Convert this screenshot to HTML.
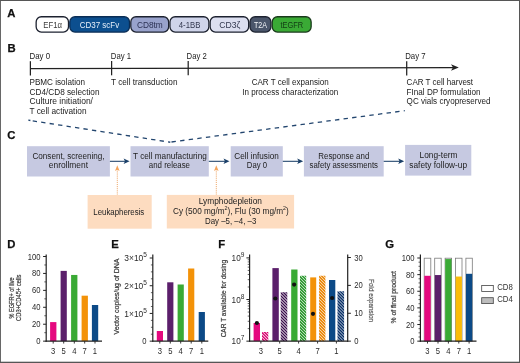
<!DOCTYPE html>
<html><head><meta charset="utf-8"><title>Figure</title>
<style>
html,body{margin:0;padding:0;background:#fff;}
body{width:520px;height:363px;overflow:hidden;font-family:"Liberation Sans",sans-serif;}
svg{display:block;position:absolute;left:0;top:0;will-change:transform;}
svg text{font-family:"Liberation Sans",sans-serif;}
</style></head>
<body>
<svg width="520" height="363" viewBox="0 0 520 363">
<defs>
<clipPath id="c0"><rect x="262" y="332" width="6.3" height="9.15"/></clipPath>
<clipPath id="c1"><rect x="280.7" y="292.3" width="6.6" height="48.85"/></clipPath>
<clipPath id="c2"><rect x="300" y="275.8" width="6.2" height="65.35"/></clipPath>
<clipPath id="c3"><rect x="319.1" y="275.8" width="6.3" height="65.35"/></clipPath>
<clipPath id="c4"><rect x="337.5" y="291.2" width="6.6" height="49.95"/></clipPath>
</defs>
<rect x="0" y="0" width="520" height="363" fill="#fff"/>
<text x="7.3" y="16.6" font-size="11.3" text-anchor="start" fill="#111" font-weight="bold" stroke="#111" stroke-width="0.25">A</text>
<text x="7.4" y="51.6" font-size="11.3" text-anchor="start" fill="#111" font-weight="bold" stroke="#111" stroke-width="0.25">B</text>
<text x="7.2" y="139.4" font-size="11.3" text-anchor="start" fill="#111" font-weight="bold" stroke="#111" stroke-width="0.25">C</text>
<text x="7.3" y="247.8" font-size="11.3" text-anchor="start" fill="#111" font-weight="bold" stroke="#111" stroke-width="0.25">D</text>
<text x="111.3" y="247.8" font-size="11.3" text-anchor="start" fill="#111" font-weight="bold" stroke="#111" stroke-width="0.25">E</text>
<text x="218.3" y="247.8" font-size="11.3" text-anchor="start" fill="#111" font-weight="bold" stroke="#111" stroke-width="0.25">F</text>
<text x="385.2" y="247.8" font-size="11.3" text-anchor="start" fill="#111" font-weight="bold" stroke="#111" stroke-width="0.25">G</text>
<rect x="36.15" y="16.75" width="32.35" height="15.3" rx="5.2" ry="5.2" fill="#ffffff" stroke="#1d2230" stroke-width="1.3"/>
<text x="43.2" y="27.5" font-size="8.6" text-anchor="start" fill="#3a3a3a" textLength="18.8" lengthAdjust="spacingAndGlyphs">EF1α</text>
<rect x="69.8" y="16.75" width="59.7" height="15.3" rx="5.2" ry="5.2" fill="#0c4f8f" stroke="#0a2d55" stroke-width="1.3"/>
<text x="79.7" y="27.5" font-size="8.6" text-anchor="start" fill="#e8f0fa" textLength="39.5" lengthAdjust="spacingAndGlyphs">CD37 scFv</text>
<rect x="130.8" y="16.75" width="37.85" height="15.3" rx="5.2" ry="5.2" fill="#98a2cc" stroke="#1d2230" stroke-width="1.3"/>
<text x="136.9" y="27.5" font-size="8.6" text-anchor="start" fill="#2b3154" textLength="25.9" lengthAdjust="spacingAndGlyphs">CD8tm</text>
<rect x="169.95" y="16.75" width="38.9" height="15.3" rx="5.2" ry="5.2" fill="#cfd4ea" stroke="#1d2230" stroke-width="1.3"/>
<text x="178.8" y="27.5" font-size="8.6" text-anchor="start" fill="#33384f" textLength="21.6" lengthAdjust="spacingAndGlyphs">4-1BB</text>
<rect x="210.15" y="16.75" width="38.5" height="15.3" rx="5.2" ry="5.2" fill="#dcdff0" stroke="#1d2230" stroke-width="1.3"/>
<text x="219.3" y="27.5" font-size="8.6" text-anchor="start" fill="#33384f" textLength="21.1" lengthAdjust="spacingAndGlyphs">CD3ζ</text>
<rect x="249.95" y="16.75" width="21.0" height="15.3" rx="5.2" ry="5.2" fill="#4b566b" stroke="#1d2230" stroke-width="1.3"/>
<text x="254" y="27.5" font-size="8.6" text-anchor="start" fill="#f2f4f8" textLength="13" lengthAdjust="spacingAndGlyphs">T2A</text>
<rect x="272.25" y="16.75" width="38.9" height="15.3" rx="5.2" ry="5.2" fill="#3aaa35" stroke="#1a3a1c" stroke-width="1.3"/>
<text x="280.4" y="27.5" font-size="8.6" text-anchor="start" fill="#123a14" textLength="22.8" lengthAdjust="spacingAndGlyphs">tEGFR</text>
<path d="M30.4 68.6L453 67.5" stroke="#222" stroke-width="1.25" fill="none"/>
<path d="M458.8 67.5L451 64.3L453 67.5L451 70.7Z" fill="#222"/>
<path d="M30.4 61.2V75.5" stroke="#222" stroke-width="1.25" fill="none"/>
<path d="M111.6 61.0V75.3" stroke="#222" stroke-width="1.25" fill="none"/>
<path d="M188.2 60.900000000000006V75.2" stroke="#222" stroke-width="1.25" fill="none"/>
<path d="M406.7 61.2V75.5" stroke="#222" stroke-width="1.25" fill="none"/>
<text x="29.5" y="58.7" font-size="8.4" text-anchor="start" fill="#222" textLength="20.6" lengthAdjust="spacingAndGlyphs">Day 0</text>
<text x="110.8" y="58.8" font-size="8.4" text-anchor="start" fill="#222" textLength="20.3" lengthAdjust="spacingAndGlyphs">Day 1</text>
<text x="186.6" y="58.8" font-size="8.4" text-anchor="start" fill="#222" textLength="20.2" lengthAdjust="spacingAndGlyphs">Day 2</text>
<text x="405.2" y="59.1" font-size="8.4" text-anchor="start" fill="#222" textLength="20.4" lengthAdjust="spacingAndGlyphs">Day 7</text>
<text x="29.5" y="84.8" font-size="8.4" text-anchor="start" fill="#222" textLength="55.5" lengthAdjust="spacingAndGlyphs">PBMC isolation</text>
<text x="29.5" y="94.6" font-size="8.4" text-anchor="start" fill="#222" textLength="70" lengthAdjust="spacingAndGlyphs">CD4/CD8 selection</text>
<text x="29.5" y="104.4" font-size="8.4" text-anchor="start" fill="#222" textLength="63.5" lengthAdjust="spacingAndGlyphs">Culture initiation/</text>
<text x="29.5" y="114.2" font-size="8.4" text-anchor="start" fill="#222" textLength="57" lengthAdjust="spacingAndGlyphs">T cell activation</text>
<text x="111.0" y="84.8" font-size="8.4" text-anchor="start" fill="#222" textLength="66.5" lengthAdjust="spacingAndGlyphs">T cell transduction</text>
<text x="251.7" y="84.8" font-size="8.4" text-anchor="start" fill="#222" textLength="77" lengthAdjust="spacingAndGlyphs">CAR T cell expansion</text>
<text x="242.3" y="94.8" font-size="8.4" text-anchor="start" fill="#222" textLength="96" lengthAdjust="spacingAndGlyphs">In process characterization</text>
<text x="406.6" y="84.8" font-size="8.4" text-anchor="start" fill="#222" textLength="66.5" lengthAdjust="spacingAndGlyphs">CAR T cell harvest</text>
<text x="406.6" y="94.6" font-size="8.4" text-anchor="start" fill="#222" textLength="74" lengthAdjust="spacingAndGlyphs">FInal DP formulation</text>
<text x="406.6" y="104.4" font-size="8.4" text-anchor="start" fill="#222" textLength="84" lengthAdjust="spacingAndGlyphs">QC vials cryopreserved</text>
<path d="M28.4 120.2L30.4 120.5" stroke="#22456e" stroke-width="1.3" fill="none"/>
<path d="M28.4 120.2L170.3 142.25" stroke="#22456e" stroke-width="1.3" fill="none" stroke-dasharray="4.35 4.21" stroke-dashoffset="4.21"/>
<path d="M170 142.2L404.8 110.7" stroke="#22456e" stroke-width="1.3" fill="none" stroke-dasharray="4.4 4.28" stroke-dashoffset="-1.5"/>
<rect x="27" y="146.2" width="82.9" height="30.3" fill="#c6c9e1"/>
<rect x="130.5" y="146.2" width="78.3" height="30.3" fill="#c6c9e1"/>
<rect x="230.7" y="146.2" width="52.1" height="30.3" fill="#c6c9e1"/>
<rect x="303.9" y="146.2" width="79.8" height="30.3" fill="#c6c9e1"/>
<rect x="405.1" y="144.9" width="66.2" height="30.7" fill="#c6c9e1"/>
<rect x="87.6" y="195.0" width="64.1" height="33.7" fill="#fddcc0"/>
<rect x="166.8" y="194.9" width="127.3" height="33.6" fill="#fddcc0"/>
<text x="32.5" y="158.8" font-size="8.4" text-anchor="start" fill="#222" textLength="72.0" lengthAdjust="spacingAndGlyphs">Consent, screening,</text>
<text x="48.8" y="168.2" font-size="8.4" text-anchor="start" fill="#222" textLength="39.2" lengthAdjust="spacingAndGlyphs">enrollment</text>
<text x="133" y="158.8" font-size="8.4" text-anchor="start" fill="#222" textLength="73.8" lengthAdjust="spacingAndGlyphs">T cell manufacturing</text>
<text x="148.8" y="168.2" font-size="8.4" text-anchor="start" fill="#222" textLength="41.2" lengthAdjust="spacingAndGlyphs">and release</text>
<text x="234.3" y="158.8" font-size="8.4" text-anchor="start" fill="#222" textLength="44.5" lengthAdjust="spacingAndGlyphs">Cell infusion</text>
<text x="246.8" y="168.2" font-size="8.4" text-anchor="start" fill="#222" textLength="20.2" lengthAdjust="spacingAndGlyphs">Day 0</text>
<text x="318.3" y="158.8" font-size="8.4" text-anchor="start" fill="#222" textLength="51.0" lengthAdjust="spacingAndGlyphs">Response and</text>
<text x="309.5" y="168.2" font-size="8.4" text-anchor="start" fill="#222" textLength="68.5" lengthAdjust="spacingAndGlyphs">safety assessments</text>
<text x="419.5" y="158" font-size="8.4" text-anchor="start" fill="#222" textLength="38.0" lengthAdjust="spacingAndGlyphs">Long-term</text>
<text x="409.3" y="167.5" font-size="8.4" text-anchor="start" fill="#222" textLength="57.7" lengthAdjust="spacingAndGlyphs">safety follow-up</text>
<text x="93.3" y="214.5" font-size="8.4" text-anchor="start" fill="#222" textLength="51.0" lengthAdjust="spacingAndGlyphs">Leukapheresis</text>
<text x="198.8" y="203.5" font-size="8.4" text-anchor="start" fill="#222" textLength="63.2" lengthAdjust="spacingAndGlyphs">Lymphodepletion</text>
<text x="173" y="213.7" font-size="8.4" text-anchor="start" fill="#222" textLength="115.8" lengthAdjust="spacingAndGlyphs">Cy (500 mg/m<tspan font-size="5.4" dy="-3.3">2</tspan><tspan dy="3.3">), Flu (30 mg/m</tspan><tspan font-size="5.4" dy="-3.3">2</tspan><tspan dy="3.3">)</tspan></text>
<text x="205" y="223.5" font-size="8.4" text-anchor="start" fill="#222" textLength="51.3" lengthAdjust="spacingAndGlyphs">Day –5, –4, –3</text>
<path d="M109.9 161.3H125.6" stroke="#1a3f68" stroke-width="1.05" fill="none"/>
<path d="M129.6 161.3L123.6 158.60000000000002L125.0 161.3L123.6 164.0Z" fill="#1a3f68"/>
<path d="M208.8 161.3H225.5" stroke="#1a3f68" stroke-width="1.05" fill="none"/>
<path d="M229.5 161.3L223.5 158.60000000000002L224.9 161.3L223.5 164.0Z" fill="#1a3f68"/>
<path d="M282.8 161.3H299.2" stroke="#1a3f68" stroke-width="1.05" fill="none"/>
<path d="M303.2 161.3L297.2 158.60000000000002L298.59999999999997 161.3L297.2 164.0Z" fill="#1a3f68"/>
<path d="M383.7 161.3H400.2" stroke="#1a3f68" stroke-width="1.05" fill="none"/>
<path d="M404.2 161.3L398.2 158.60000000000002L399.59999999999997 161.3L398.2 164.0Z" fill="#1a3f68"/>
<path d="M117.3 169.3V195" stroke="#ea9448" stroke-width="0.85" fill="none" stroke-dasharray="1.05 1.05"/>
<path d="M117.3 165.3L115.0 170.9L117.3 169.70000000000002L119.6 170.9Z" fill="#f4a45c"/>
<path d="M216.3 169.3V195" stroke="#ea9448" stroke-width="0.85" fill="none" stroke-dasharray="1.05 1.05"/>
<path d="M216.3 165.3L214.0 170.9L216.3 169.70000000000002L218.60000000000002 170.9Z" fill="#f4a45c"/>
<rect x="50.1" y="322.1" width="6.3" height="19.05" fill="#e5097f"/>
<rect x="60.6" y="270.89" width="6.2" height="70.26" fill="#5b1f6b"/>
<rect x="71.1" y="274.95" width="6.3" height="66.2" fill="#3aaa35"/>
<rect x="81.6" y="295.69" width="6.3" height="45.46" fill="#f39208"/>
<rect x="91.9" y="305.0" width="6.3" height="36.15" fill="#0c4a87"/>
<path d="M46.2 254.6V341.75" stroke="#222" stroke-width="1.2" fill="none"/>
<path d="M46.2 341.15h-3.1" stroke="#222" stroke-width="1" fill="none"/>
<path d="M46.2 324.22h-3.1" stroke="#222" stroke-width="1" fill="none"/>
<path d="M46.2 307.29h-3.1" stroke="#222" stroke-width="1" fill="none"/>
<path d="M46.2 290.36h-3.1" stroke="#222" stroke-width="1" fill="none"/>
<path d="M46.2 273.43h-3.1" stroke="#222" stroke-width="1" fill="none"/>
<path d="M46.2 256.5h-3.1" stroke="#222" stroke-width="1" fill="none"/>
<path d="M46.2 332.69h-1.9" stroke="#222" stroke-width="0.7" fill="none"/>
<path d="M46.2 315.75h-1.9" stroke="#222" stroke-width="0.7" fill="none"/>
<path d="M46.2 298.82h-1.9" stroke="#222" stroke-width="0.7" fill="none"/>
<path d="M46.2 281.89h-1.9" stroke="#222" stroke-width="0.7" fill="none"/>
<path d="M46.2 264.96h-1.9" stroke="#222" stroke-width="0.7" fill="none"/>
<path d="M45.6 341.15H102" stroke="#222" stroke-width="1.25" fill="none"/>
<path d="M53.2 341.15v2.4" stroke="#222" stroke-width="0.9" fill="none"/>
<text transform="translate(53.2,354.4) scale(0.9,1)" font-size="8.5" text-anchor="middle" fill="#2a2a2a">3</text>
<path d="M63.7 341.15v2.4" stroke="#222" stroke-width="0.9" fill="none"/>
<text transform="translate(63.7,354.4) scale(0.9,1)" font-size="8.5" text-anchor="middle" fill="#2a2a2a">5</text>
<path d="M74.3 341.15v2.4" stroke="#222" stroke-width="0.9" fill="none"/>
<text transform="translate(74.3,354.4) scale(0.9,1)" font-size="8.5" text-anchor="middle" fill="#2a2a2a">4</text>
<path d="M84.7 341.15v2.4" stroke="#222" stroke-width="0.9" fill="none"/>
<text transform="translate(84.7,354.4) scale(0.9,1)" font-size="8.5" text-anchor="middle" fill="#2a2a2a">7</text>
<path d="M95 341.15v2.4" stroke="#222" stroke-width="0.9" fill="none"/>
<text transform="translate(95,354.4) scale(0.9,1)" font-size="8.5" text-anchor="middle" fill="#2a2a2a">1</text>
<text transform="translate(40.6,344.15) scale(0.9,1)" font-size="8.5" text-anchor="end" fill="#2a2a2a">0</text>
<text transform="translate(40.6,327.22) scale(0.9,1)" font-size="8.5" text-anchor="end" fill="#2a2a2a">20</text>
<text transform="translate(40.6,310.29) scale(0.9,1)" font-size="8.5" text-anchor="end" fill="#2a2a2a">40</text>
<text transform="translate(40.6,293.36) scale(0.9,1)" font-size="8.5" text-anchor="end" fill="#2a2a2a">60</text>
<text transform="translate(40.6,276.43) scale(0.9,1)" font-size="8.5" text-anchor="end" fill="#2a2a2a">80</text>
<text transform="translate(40.6,259.5) scale(0.9,1)" font-size="8.5" text-anchor="end" fill="#2a2a2a">100</text>
<text transform="translate(13.5,297.9) rotate(-90)" font-size="7.4" text-anchor="middle" fill="#3c3c3c" stroke="#3c3c3c" stroke-width="0.22" textLength="41" lengthAdjust="spacingAndGlyphs">% EGFR+ of live</text>
<text transform="translate(21.3,297.7) rotate(-90)" font-size="7.4" text-anchor="middle" fill="#3c3c3c" stroke="#3c3c3c" stroke-width="0.22" textLength="46.4" lengthAdjust="spacingAndGlyphs">CD3+CD45+ cells</text>
<rect x="156.8" y="331.0" width="6.2" height="10.15" fill="#e5097f"/>
<rect x="167.2" y="282.3" width="6.2" height="58.85" fill="#5b1f6b"/>
<rect x="177.6" y="284.5" width="6.2" height="56.65" fill="#3aaa35"/>
<rect x="188.1" y="268.5" width="6.2" height="72.65" fill="#f39208"/>
<rect x="198.7" y="312.0" width="6.2" height="29.15" fill="#0c4a87"/>
<path d="M152.8 254.6V341.75" stroke="#222" stroke-width="1.2" fill="none"/>
<path d="M152.8 341.15h-3.1" stroke="#222" stroke-width="1" fill="none"/>
<path d="M152.8 313.43h-3.1" stroke="#222" stroke-width="1" fill="none"/>
<path d="M152.8 285.72h-3.1" stroke="#222" stroke-width="1" fill="none"/>
<path d="M152.8 258.0h-3.1" stroke="#222" stroke-width="1" fill="none"/>
<path d="M152.8 334.22h-1.9" stroke="#222" stroke-width="0.7" fill="none"/>
<path d="M152.8 327.29h-1.9" stroke="#222" stroke-width="0.7" fill="none"/>
<path d="M152.8 320.36h-1.9" stroke="#222" stroke-width="0.7" fill="none"/>
<path d="M152.8 306.5h-1.9" stroke="#222" stroke-width="0.7" fill="none"/>
<path d="M152.8 299.57h-1.9" stroke="#222" stroke-width="0.7" fill="none"/>
<path d="M152.8 292.65h-1.9" stroke="#222" stroke-width="0.7" fill="none"/>
<path d="M152.8 278.79h-1.9" stroke="#222" stroke-width="0.7" fill="none"/>
<path d="M152.8 271.86h-1.9" stroke="#222" stroke-width="0.7" fill="none"/>
<path d="M152.8 264.93h-1.9" stroke="#222" stroke-width="0.7" fill="none"/>
<path d="M152.20000000000002 341.15H208.3" stroke="#222" stroke-width="1.25" fill="none"/>
<path d="M159.8 341.15v2.4" stroke="#222" stroke-width="0.9" fill="none"/>
<text transform="translate(159.8,354.4) scale(0.9,1)" font-size="8.5" text-anchor="middle" fill="#2a2a2a">3</text>
<path d="M170.3 341.15v2.4" stroke="#222" stroke-width="0.9" fill="none"/>
<text transform="translate(170.3,354.4) scale(0.9,1)" font-size="8.5" text-anchor="middle" fill="#2a2a2a">5</text>
<path d="M180.7 341.15v2.4" stroke="#222" stroke-width="0.9" fill="none"/>
<text transform="translate(180.7,354.4) scale(0.9,1)" font-size="8.5" text-anchor="middle" fill="#2a2a2a">4</text>
<path d="M191.2 341.15v2.4" stroke="#222" stroke-width="0.9" fill="none"/>
<text transform="translate(191.2,354.4) scale(0.9,1)" font-size="8.5" text-anchor="middle" fill="#2a2a2a">7</text>
<path d="M201.8 341.15v2.4" stroke="#222" stroke-width="0.9" fill="none"/>
<text transform="translate(201.8,354.4) scale(0.9,1)" font-size="8.5" text-anchor="middle" fill="#2a2a2a">1</text>
<text transform="translate(146.4,344.15) scale(0.9,1)" font-size="8.5" text-anchor="end" fill="#2a2a2a">0</text>
<text transform="translate(124.3,316.53) scale(0.9,1)" font-size="8.5" text-anchor="start" fill="#2a2a2a" textLength="25.2" lengthAdjust="spacingAndGlyphs">1×10<tspan font-size="6.6" dy="-3.8">5</tspan></text>
<text transform="translate(124.3,288.82) scale(0.9,1)" font-size="8.5" text-anchor="start" fill="#2a2a2a" textLength="25.2" lengthAdjust="spacingAndGlyphs">2×10<tspan font-size="6.6" dy="-3.8">5</tspan></text>
<text transform="translate(124.3,261.1) scale(0.9,1)" font-size="8.5" text-anchor="start" fill="#2a2a2a" textLength="25.2" lengthAdjust="spacingAndGlyphs">3×10<tspan font-size="6.6" dy="-3.8">5</tspan></text>
<text transform="translate(118.9,296.6) rotate(-90)" font-size="7.4" text-anchor="middle" fill="#3c3c3c" stroke="#3c3c3c" stroke-width="0.22" textLength="76" lengthAdjust="spacingAndGlyphs">Vector copies/ug of DNA</text>
<rect x="253.6" y="323.0" width="6.4" height="18.15" fill="#e5097f"/>
<path d="M261 322.7L269.3 331.0M261 325.7L269.3 334.0M261 328.7L269.3 337.0M261 331.7L269.3 340.0M261 334.7L269.3 343.0M261 337.7L269.3 346.0M261 340.7L269.3 349.0" stroke="#d8046f" stroke-width="1.5" fill="none" clip-path="url(#c0)"/>
<rect x="272.4" y="268.1" width="6.4" height="73.05" fill="#5b1f6b"/>
<path d="M279.7 282.7L288.3 291.3M279.7 285.7L288.3 294.3M279.7 288.7L288.3 297.3M279.7 291.7L288.3 300.3M279.7 294.7L288.3 303.3M279.7 297.7L288.3 306.3M279.7 300.7L288.3 309.3M279.7 303.7L288.3 312.3M279.7 306.7L288.3 315.3M279.7 309.7L288.3 318.3M279.7 312.7L288.3 321.3M279.7 315.7L288.3 324.3M279.7 318.7L288.3 327.3M279.7 321.7L288.3 330.3M279.7 324.7L288.3 333.3M279.7 327.7L288.3 336.3M279.7 330.7L288.3 339.3M279.7 333.7L288.3 342.3M279.7 336.7L288.3 345.3M279.7 339.7L288.3 348.3" stroke="#3a0d4c" stroke-width="1.5" fill="none" clip-path="url(#c1)"/>
<rect x="291.2" y="269.5" width="6.3" height="71.65" fill="#3aaa35"/>
<path d="M299 266.6L307.2 274.8M299 269.6L307.2 277.8M299 272.6L307.2 280.8M299 275.6L307.2 283.8M299 278.6L307.2 286.8M299 281.6L307.2 289.8M299 284.6L307.2 292.8M299 287.6L307.2 295.8M299 290.6L307.2 298.8M299 293.6L307.2 301.8M299 296.6L307.2 304.8M299 299.6L307.2 307.8M299 302.6L307.2 310.8M299 305.6L307.2 313.8M299 308.6L307.2 316.8M299 311.6L307.2 319.8M299 314.6L307.2 322.8M299 317.6L307.2 325.8M299 320.6L307.2 328.8M299 323.6L307.2 331.8M299 326.6L307.2 334.8M299 329.6L307.2 337.8M299 332.6L307.2 340.8M299 335.6L307.2 343.8M299 338.6L307.2 346.8M299 341.6L307.2 349.8" stroke="#27962a" stroke-width="1.5" fill="none" clip-path="url(#c2)"/>
<rect x="310.2" y="277.4" width="6.0" height="63.75" fill="#f39208"/>
<path d="M318.1 266.5L326.4 274.8M318.1 269.5L326.4 277.8M318.1 272.5L326.4 280.8M318.1 275.5L326.4 283.8M318.1 278.5L326.4 286.8M318.1 281.5L326.4 289.8M318.1 284.5L326.4 292.8M318.1 287.5L326.4 295.8M318.1 290.5L326.4 298.8M318.1 293.5L326.4 301.8M318.1 296.5L326.4 304.8M318.1 299.5L326.4 307.8M318.1 302.5L326.4 310.8M318.1 305.5L326.4 313.8M318.1 308.5L326.4 316.8M318.1 311.5L326.4 319.8M318.1 314.5L326.4 322.8M318.1 317.5L326.4 325.8M318.1 320.5L326.4 328.8M318.1 323.5L326.4 331.8M318.1 326.5L326.4 334.8M318.1 329.5L326.4 337.8M318.1 332.5L326.4 340.8M318.1 335.5L326.4 343.8M318.1 338.5L326.4 346.8M318.1 341.5L326.4 349.8" stroke="#ea8400" stroke-width="1.5" fill="none" clip-path="url(#c3)"/>
<rect x="329" y="280" width="6.3" height="61.15" fill="#0c4a87"/>
<path d="M336.5 281.6L345.1 290.2M336.5 284.6L345.1 293.2M336.5 287.6L345.1 296.2M336.5 290.6L345.1 299.2M336.5 293.6L345.1 302.2M336.5 296.6L345.1 305.2M336.5 299.6L345.1 308.2M336.5 302.6L345.1 311.2M336.5 305.6L345.1 314.2M336.5 308.6L345.1 317.2M336.5 311.6L345.1 320.2M336.5 314.6L345.1 323.2M336.5 317.6L345.1 326.2M336.5 320.6L345.1 329.2M336.5 323.6L345.1 332.2M336.5 326.6L345.1 335.2M336.5 329.6L345.1 338.2M336.5 332.6L345.1 341.2M336.5 335.6L345.1 344.2M336.5 338.6L345.1 347.2M336.5 341.6L345.1 350.2" stroke="#082f66" stroke-width="1.5" fill="none" clip-path="url(#c4)"/>
<circle cx="256.9" cy="323.0" r="2.1" fill="#111"/>
<circle cx="275.3" cy="298.5" r="2.1" fill="#111"/>
<circle cx="294.1" cy="284.6" r="2.1" fill="#111"/>
<circle cx="313" cy="313.8" r="2.1" fill="#111"/>
<circle cx="332.1" cy="298" r="2.1" fill="#111"/>
<path d="M249.6 254.6V341.75" stroke="#222" stroke-width="1.2" fill="none"/>
<path d="M249.6 341.15h-3.2" stroke="#222" stroke-width="1" fill="none"/>
<path d="M249.6 299.52h-3.2" stroke="#222" stroke-width="1" fill="none"/>
<path d="M249.6 257.9h-3.2" stroke="#222" stroke-width="1" fill="none"/>
<path d="M249.6 328.62h-1.9" stroke="#222" stroke-width="0.7" fill="none"/>
<path d="M249.6 321.29h-1.9" stroke="#222" stroke-width="0.7" fill="none"/>
<path d="M249.6 316.09h-1.9" stroke="#222" stroke-width="0.7" fill="none"/>
<path d="M249.6 312.06h-1.9" stroke="#222" stroke-width="0.7" fill="none"/>
<path d="M249.6 308.76h-1.9" stroke="#222" stroke-width="0.7" fill="none"/>
<path d="M249.6 305.97h-1.9" stroke="#222" stroke-width="0.7" fill="none"/>
<path d="M249.6 303.56h-1.9" stroke="#222" stroke-width="0.7" fill="none"/>
<path d="M249.6 301.43h-1.9" stroke="#222" stroke-width="0.7" fill="none"/>
<path d="M249.6 286.99h-1.9" stroke="#222" stroke-width="0.7" fill="none"/>
<path d="M249.6 279.66h-1.9" stroke="#222" stroke-width="0.7" fill="none"/>
<path d="M249.6 274.46h-1.9" stroke="#222" stroke-width="0.7" fill="none"/>
<path d="M249.6 270.43h-1.9" stroke="#222" stroke-width="0.7" fill="none"/>
<path d="M249.6 267.13h-1.9" stroke="#222" stroke-width="0.7" fill="none"/>
<path d="M249.6 264.35h-1.9" stroke="#222" stroke-width="0.7" fill="none"/>
<path d="M249.6 261.93h-1.9" stroke="#222" stroke-width="0.7" fill="none"/>
<path d="M249.6 259.8h-1.9" stroke="#222" stroke-width="0.7" fill="none"/>
<text transform="translate(231.6,344.25) scale(0.9,1)" font-size="8.5" text-anchor="start" fill="#2a2a2a" textLength="14.2" lengthAdjust="spacingAndGlyphs">10<tspan font-size="6.8" dy="-3.9">7</tspan></text>
<text transform="translate(231.6,302.62) scale(0.9,1)" font-size="8.5" text-anchor="start" fill="#2a2a2a" textLength="14.2" lengthAdjust="spacingAndGlyphs">10<tspan font-size="6.8" dy="-3.9">8</tspan></text>
<text transform="translate(231.6,261.0) scale(0.9,1)" font-size="8.5" text-anchor="start" fill="#2a2a2a" textLength="14.2" lengthAdjust="spacingAndGlyphs">10<tspan font-size="6.8" dy="-3.9">9</tspan></text>
<path d="M249.0 341.15H348" stroke="#222" stroke-width="1.25" fill="none"/>
<path d="M260.9 341.15v2.4" stroke="#222" stroke-width="0.9" fill="none"/>
<text transform="translate(260.9,354.4) scale(0.9,1)" font-size="8.5" text-anchor="middle" fill="#2a2a2a">3</text>
<path d="M279.7 341.15v2.4" stroke="#222" stroke-width="0.9" fill="none"/>
<text transform="translate(279.7,354.4) scale(0.9,1)" font-size="8.5" text-anchor="middle" fill="#2a2a2a">5</text>
<path d="M298.6 341.15v2.4" stroke="#222" stroke-width="0.9" fill="none"/>
<text transform="translate(298.6,354.4) scale(0.9,1)" font-size="8.5" text-anchor="middle" fill="#2a2a2a">4</text>
<path d="M317.6 341.15v2.4" stroke="#222" stroke-width="0.9" fill="none"/>
<text transform="translate(317.6,354.4) scale(0.9,1)" font-size="8.5" text-anchor="middle" fill="#2a2a2a">7</text>
<path d="M336.4 341.15v2.4" stroke="#222" stroke-width="0.9" fill="none"/>
<text transform="translate(336.4,354.4) scale(0.9,1)" font-size="8.5" text-anchor="middle" fill="#2a2a2a">1</text>
<text transform="translate(226.4,298.6) rotate(-90)" font-size="7.4" text-anchor="middle" fill="#3c3c3c" stroke="#3c3c3c" stroke-width="0.22" textLength="77.5" lengthAdjust="spacingAndGlyphs">CAR T available for dosing</text>
<path d="M347.7 254.6V341.75" stroke="#222" stroke-width="1.2" fill="none"/>
<path d="M347.7 341.15h3.2" stroke="#222" stroke-width="1" fill="none"/>
<path d="M347.7 313.27h3.2" stroke="#222" stroke-width="1" fill="none"/>
<path d="M347.7 285.38h3.2" stroke="#222" stroke-width="1" fill="none"/>
<path d="M347.7 257.5h3.2" stroke="#222" stroke-width="1" fill="none"/>
<text transform="translate(354.3,344.15) scale(0.9,1)" font-size="8.5" text-anchor="start" fill="#2a2a2a">0</text>
<text transform="translate(354.3,316.27) scale(0.9,1)" font-size="8.5" text-anchor="start" fill="#2a2a2a">10</text>
<text transform="translate(354.3,288.38) scale(0.9,1)" font-size="8.5" text-anchor="start" fill="#2a2a2a">20</text>
<text transform="translate(354.3,260.5) scale(0.9,1)" font-size="8.5" text-anchor="start" fill="#2a2a2a">30</text>
<text transform="translate(368.6,300.6) rotate(90)" font-size="7.8" text-anchor="middle" fill="#5a5a5a" stroke="#5a5a5a" stroke-width="0.22" textLength="43" lengthAdjust="spacingAndGlyphs">Fold expansion</text>
<rect x="424.2" y="258.2" width="6.6" height="82.95" fill="#fff" stroke="#7a7a7a" stroke-width="0.8"/>
<rect x="424.3" y="275.79" width="6.4" height="65.36" fill="#e5097f"/>
<rect x="434.7" y="258.2" width="6.5" height="82.95" fill="#fff" stroke="#7a7a7a" stroke-width="0.8"/>
<rect x="434.8" y="275.05" width="6.3" height="66.1" fill="#5b1f6b"/>
<rect x="445.09999999999997" y="258.2" width="6.5" height="82.95" fill="#fff" stroke="#7a7a7a" stroke-width="0.8"/>
<rect x="445.2" y="259.08" width="6.3" height="82.07" fill="#3aaa35"/>
<rect x="455.5" y="258.2" width="6.5" height="82.95" fill="#fff" stroke="#7a7a7a" stroke-width="0.8"/>
<rect x="455.6" y="276.54" width="6.3" height="64.61" fill="#fbbc09"/>
<rect x="465.9" y="258.2" width="6.4" height="82.95" fill="#fff" stroke="#7a7a7a" stroke-width="0.8"/>
<rect x="466.0" y="273.8" width="6.2" height="67.35" fill="#0c4a87"/>
<path d="M420.4 254.6V341.75" stroke="#222" stroke-width="1.2" fill="none"/>
<path d="M420.4 341.15h-3.1" stroke="#222" stroke-width="1" fill="none"/>
<path d="M420.4 324.52h-3.1" stroke="#222" stroke-width="1" fill="none"/>
<path d="M420.4 307.89h-3.1" stroke="#222" stroke-width="1" fill="none"/>
<path d="M420.4 291.26h-3.1" stroke="#222" stroke-width="1" fill="none"/>
<path d="M420.4 274.63h-3.1" stroke="#222" stroke-width="1" fill="none"/>
<path d="M420.4 258.0h-3.1" stroke="#222" stroke-width="1" fill="none"/>
<path d="M420.4 336.99h-1.9" stroke="#222" stroke-width="0.7" fill="none"/>
<path d="M420.4 332.83h-1.9" stroke="#222" stroke-width="0.7" fill="none"/>
<path d="M420.4 328.68h-1.9" stroke="#222" stroke-width="0.7" fill="none"/>
<path d="M420.4 320.36h-1.9" stroke="#222" stroke-width="0.7" fill="none"/>
<path d="M420.4 316.2h-1.9" stroke="#222" stroke-width="0.7" fill="none"/>
<path d="M420.4 312.05h-1.9" stroke="#222" stroke-width="0.7" fill="none"/>
<path d="M420.4 303.73h-1.9" stroke="#222" stroke-width="0.7" fill="none"/>
<path d="M420.4 299.57h-1.9" stroke="#222" stroke-width="0.7" fill="none"/>
<path d="M420.4 295.42h-1.9" stroke="#222" stroke-width="0.7" fill="none"/>
<path d="M420.4 287.1h-1.9" stroke="#222" stroke-width="0.7" fill="none"/>
<path d="M420.4 282.94h-1.9" stroke="#222" stroke-width="0.7" fill="none"/>
<path d="M420.4 278.79h-1.9" stroke="#222" stroke-width="0.7" fill="none"/>
<path d="M420.4 270.47h-1.9" stroke="#222" stroke-width="0.7" fill="none"/>
<path d="M420.4 266.31h-1.9" stroke="#222" stroke-width="0.7" fill="none"/>
<path d="M420.4 262.16h-1.9" stroke="#222" stroke-width="0.7" fill="none"/>
<path d="M419.79999999999995 341.15H476.5" stroke="#222" stroke-width="1.25" fill="none"/>
<path d="M427.5 341.15v2.4" stroke="#222" stroke-width="0.9" fill="none"/>
<text transform="translate(427.5,354.4) scale(0.9,1)" font-size="8.5" text-anchor="middle" fill="#2a2a2a">3</text>
<path d="M438 341.15v2.4" stroke="#222" stroke-width="0.9" fill="none"/>
<text transform="translate(438,354.4) scale(0.9,1)" font-size="8.5" text-anchor="middle" fill="#2a2a2a">5</text>
<path d="M448.4 341.15v2.4" stroke="#222" stroke-width="0.9" fill="none"/>
<text transform="translate(448.4,354.4) scale(0.9,1)" font-size="8.5" text-anchor="middle" fill="#2a2a2a">4</text>
<path d="M458.8 341.15v2.4" stroke="#222" stroke-width="0.9" fill="none"/>
<text transform="translate(458.8,354.4) scale(0.9,1)" font-size="8.5" text-anchor="middle" fill="#2a2a2a">7</text>
<path d="M469.1 341.15v2.4" stroke="#222" stroke-width="0.9" fill="none"/>
<text transform="translate(469.1,354.4) scale(0.9,1)" font-size="8.5" text-anchor="middle" fill="#2a2a2a">1</text>
<text transform="translate(414.6,344.15) scale(0.9,1)" font-size="8.5" text-anchor="end" fill="#2a2a2a">0</text>
<text transform="translate(414.6,327.52) scale(0.9,1)" font-size="8.5" text-anchor="end" fill="#2a2a2a">20</text>
<text transform="translate(414.6,310.89) scale(0.9,1)" font-size="8.5" text-anchor="end" fill="#2a2a2a">40</text>
<text transform="translate(414.6,294.26) scale(0.9,1)" font-size="8.5" text-anchor="end" fill="#2a2a2a">60</text>
<text transform="translate(414.6,277.63) scale(0.9,1)" font-size="8.5" text-anchor="end" fill="#2a2a2a">80</text>
<text transform="translate(414.6,261.0) scale(0.9,1)" font-size="8.5" text-anchor="end" fill="#2a2a2a">100</text>
<text transform="translate(395.8,297.3) rotate(-90)" font-size="7.4" text-anchor="middle" fill="#3c3c3c" stroke="#3c3c3c" stroke-width="0.22" textLength="52.5" lengthAdjust="spacingAndGlyphs">% of final product</text>
<rect x="481.7" y="285.5" width="11.6" height="5.9" fill="#fff" stroke="#444" stroke-width="0.8"/>
<rect x="481.7" y="297.7" width="11.6" height="5.9" fill="#bdbdbd" stroke="#444" stroke-width="0.8"/>
<text x="497.2" y="290.3" font-size="8.2" text-anchor="start" fill="#333" textLength="15.6" lengthAdjust="spacingAndGlyphs">CD8</text>
<text x="497.2" y="302.4" font-size="8.2" text-anchor="start" fill="#333" textLength="15.6" lengthAdjust="spacingAndGlyphs">CD4</text>
<rect x="0" y="0" width="520" height="1" fill="#565656"/><rect x="0" y="0" width="0.9" height="363" fill="#565656"/><rect x="519" y="0" width="1" height="363" fill="#565656"/><rect x="0" y="361.7" width="520" height="1.3" fill="#565656"/>
</svg>
</body></html>
